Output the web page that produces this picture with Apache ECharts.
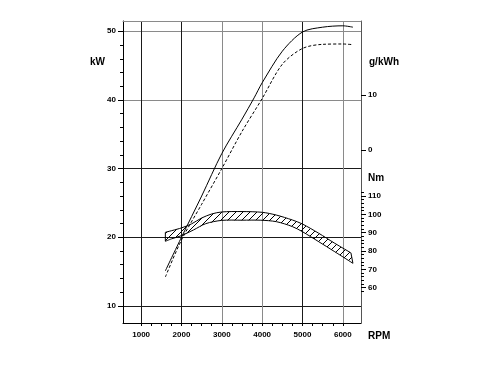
<!DOCTYPE html>
<html><head><meta charset="utf-8">
<script src="https://cdn.jsdelivr.net/npm/echarts@6/dist/echarts.min.js"></script>
<style>html,body{margin:0;padding:0;background:#fff}#c{width:488px;height:373px}</style>
</head><body><div id="c"></div>
<script>
// ---- data ----
const rpmPowerSolid = [1600, 2000, 2500, 3000, 3500, 3800, 4000, 4500, 5000, 5500, 6000, 6250];
const powerSolid    = [15.1, 20.0, 26.0, 32.2, 37.2, 40.3, 42.5, 47.1, 49.9, 50.6, 50.8, 50.6];
const rpmPowerDashed = [1600, 2000, 2500, 3000, 3500, 4000, 4500, 5000, 5500, 6000, 6250];
const powerDashed    = [14.2, 19.6, 24.8, 30.0, 35.4, 40.2, 45.2, 47.5, 48.1, 48.15, 48.05];
const rpmTorqueUpper = [1600, 2000, 2250, 2500, 2750, 3000, 3500, 4000, 4350, 4750, 5000, 5400, 5800, 6200];
const torqueUpper    = [90.2, 92.6, 94.8, 98.0, 100.2, 101.3, 101.5, 101.1, 99.6, 96.9, 94.7, 89.7, 84.2, 79.0];
const rpmTorqueLower = [1600, 1750, 2000, 2300, 2600, 3000, 3500, 3950, 4350, 4750, 5000, 5400, 5800, 6250];
const torqueLower    = [85.3, 86.6, 88.4, 91.5, 94.9, 96.7, 96.8, 96.8, 96.0, 93.3, 90.5, 85.1, 79.6, 73.3];
const rpmTicks  = [1000, 2000, 3000, 4000, 5000, 6000];
const kwTicks   = [10, 20, 30, 40, 50];
const nmTicks   = [60, 70, 80, 90, 100, 110];
const gkwhTicks = [0, 10];

// minor tick positions
const rpmMinor = []; for (let v = 1000; v <= 6000; v += 250) rpmMinor.push(v);
const kwMinor = [];  for (let v = 12; v <= 48; v += 2) if (v % 10) kwMinor.push(v);
const nmMinor = [];  for (let v = 58; v <= 112; v += 2) nmMinor.push(v);

// hatch pattern
const pc = document.createElement('canvas'); pc.width = 7; pc.height = 7;
const g = pc.getContext('2d'); g.strokeStyle = '#000'; g.lineWidth = 1;
g.beginPath(); g.moveTo(-1, 8); g.lineTo(8, -1); g.stroke();
g.beginPath(); g.moveTo(-1, 1); g.lineTo(1, -1); g.stroke();
g.beginPath(); g.moveTo(6, 8); g.lineTo(8, 6); g.stroke();

const FONT = '"Liberation Sans", Arial, sans-serif';
const plain = v => String(v);
const tickLabel = { fontSize: 8, fontWeight: 'bold', color: '#000', fontFamily: FONT, formatter: plain };
const DARK = '#1a1a1a', GRAY = '#8a8a8a';

const X = { type: 'value', min: 550, max: 6450 };
const KW = { type: 'value', min: 7.5, max: 51.5 };
const NM = { type: 'value', min: 40.75, max: 205.4 };
const GK = { type: 'value', min: -31.45, max: 23.45 };

const chart = echarts.init(document.getElementById('c'), null, { renderer: 'canvas' });
chart.setOption({
  animation: false,
  backgroundColor: '#fff',
  grid: { left: 123, right: 127, top: 21, bottom: 50, outerBoundsMode: 'none', containLabel: false },
  xAxis: [
    Object.assign({}, X, {
      position: 'bottom',
      axisLine: { show: true, onZero: false, lineStyle: { color: '#000', width: 1 } },
      axisTick: { show: true, inside: false, length: 3, customValues: rpmMinor, lineStyle: { color: '#000' } },
      axisLabel: Object.assign({ customValues: rpmTicks, margin: 8 }, tickLabel),
      splitLine: { show: false }
    }),
    Object.assign({}, X, {
      position: 'bottom',
      axisLine: { show: false },
      axisTick: { show: false, customValues: rpmTicks },
      axisLabel: { show: false },
      splitLine: { show: true, lineStyle: { color: [DARK, DARK, GRAY, GRAY, DARK, GRAY], width: 1 } }
    }),
    Object.assign({}, X, {
      position: 'top',
      axisLine: { show: true, onZero: false, lineStyle: { color: GRAY, width: 1 } },
      axisTick: { show: false }, axisLabel: { show: false }, splitLine: { show: false }
    })
  ],
  yAxis: [
    Object.assign({}, KW, {
      position: 'left',
      axisLine: { show: true, onZero: false, lineStyle: { color: '#000' } },
      axisTick: { show: true, length: 3, customValues: kwMinor, lineStyle: { color: '#000' } },
      axisLabel: { show: false }, splitLine: { show: false }
    }),
    Object.assign({}, KW, {
      position: 'left',
      axisLine: { show: false },
      axisTick: { show: true, length: 5, customValues: kwTicks, lineStyle: { color: '#000' } },
      axisLabel: Object.assign({ customValues: kwTicks, margin: 7 }, tickLabel),
      splitLine: { show: true, lineStyle: { color: [DARK, DARK, DARK, GRAY, GRAY], width: 1 } }
    }),
    Object.assign({}, NM, {
      position: 'right',
      axisLine: { show: true, onZero: false, lineStyle: { color: '#555' } },
      axisTick: { show: true, length: 3, customValues: nmMinor, lineStyle: { color: '#000' } },
      axisLabel: { show: false }, splitLine: { show: false }
    }),
    Object.assign({}, NM, {
      position: 'right',
      axisLine: { show: false },
      axisTick: { show: true, length: 5, customValues: nmTicks, lineStyle: { color: '#000' } },
      axisLabel: Object.assign({ customValues: nmTicks, margin: 7 }, tickLabel),
      splitLine: { show: false }
    }),
    Object.assign({}, GK, {
      position: 'right',
      axisLine: { show: false },
      axisTick: { show: true, length: 5, customValues: gkwhTicks, lineStyle: { color: '#000' } },
      axisLabel: Object.assign({ customValues: gkwhTicks, margin: 7 }, tickLabel),
      splitLine: { show: false }
    })
  ],
  series: [
    {
      type: 'custom', coordinateSystem: 'cartesian2d', xAxisIndex: 0, yAxisIndex: 2,
      silent: true, z: 3,
      data: [[rpmTorqueUpper[0], torqueUpper[0]]],
      renderItem: function (params, api) {
        const up = rpmTorqueUpper.map((r, i) => api.coord([r, torqueUpper[i]]));
        const lo = rpmTorqueLower.map((r, i) => api.coord([r, torqueLower[i]]));
        const poly = up.concat(lo.slice().reverse());
        const edge = { stroke: '#000', lineWidth: 1, fill: null };
        return {
          type: 'group',
          children: [
            { type: 'polygon', shape: { points: poly }, style: { fill: { image: pc, repeat: 'repeat' }, stroke: null } },
            { type: 'polyline', shape: { points: up, smooth: 0.3 }, style: edge },
            { type: 'polyline', shape: { points: lo, smooth: 0.3 }, style: edge },
            { type: 'line', shape: { x1: up[0][0], y1: up[0][1], x2: lo[0][0], y2: lo[0][1] }, style: edge },
            { type: 'line', shape: { x1: up[up.length - 1][0], y1: up[up.length - 1][1], x2: lo[lo.length - 1][0], y2: lo[lo.length - 1][1] }, style: edge }
          ]
        };
      }
    },
    {
      type: 'line', xAxisIndex: 0, yAxisIndex: 0, silent: true, z: 4,
      data: rpmPowerSolid.map((r, i) => [r, powerSolid[i]]),
      smooth: 0.3, symbol: 'none', lineStyle: { color: '#000', width: 1 }
    },
    {
      type: 'line', xAxisIndex: 0, yAxisIndex: 0, silent: true, z: 4,
      data: rpmPowerDashed.map((r, i) => [r, powerDashed[i]]),
      smooth: 0.3, symbol: 'none', lineStyle: { color: '#000', width: 1, type: [3, 2] }
    }
  ],
  graphic: [
    { type: 'text', style: { text: 'kW', x: 90, y: 62, font: 'bold 10px ' + FONT, fill: '#000', verticalAlign: 'middle' } },
    { type: 'text', style: { text: 'g/kWh', x: 369, y: 62, font: 'bold 10px ' + FONT, fill: '#000', verticalAlign: 'middle' } },
    { type: 'text', style: { text: 'Nm', x: 368, y: 178, font: 'bold 10px ' + FONT, fill: '#000', verticalAlign: 'middle' } },
    { type: 'text', style: { text: 'RPM', x: 368, y: 336, font: 'bold 10px ' + FONT, fill: '#000', verticalAlign: 'middle' } }
  ]
});
</script>
</body></html>
